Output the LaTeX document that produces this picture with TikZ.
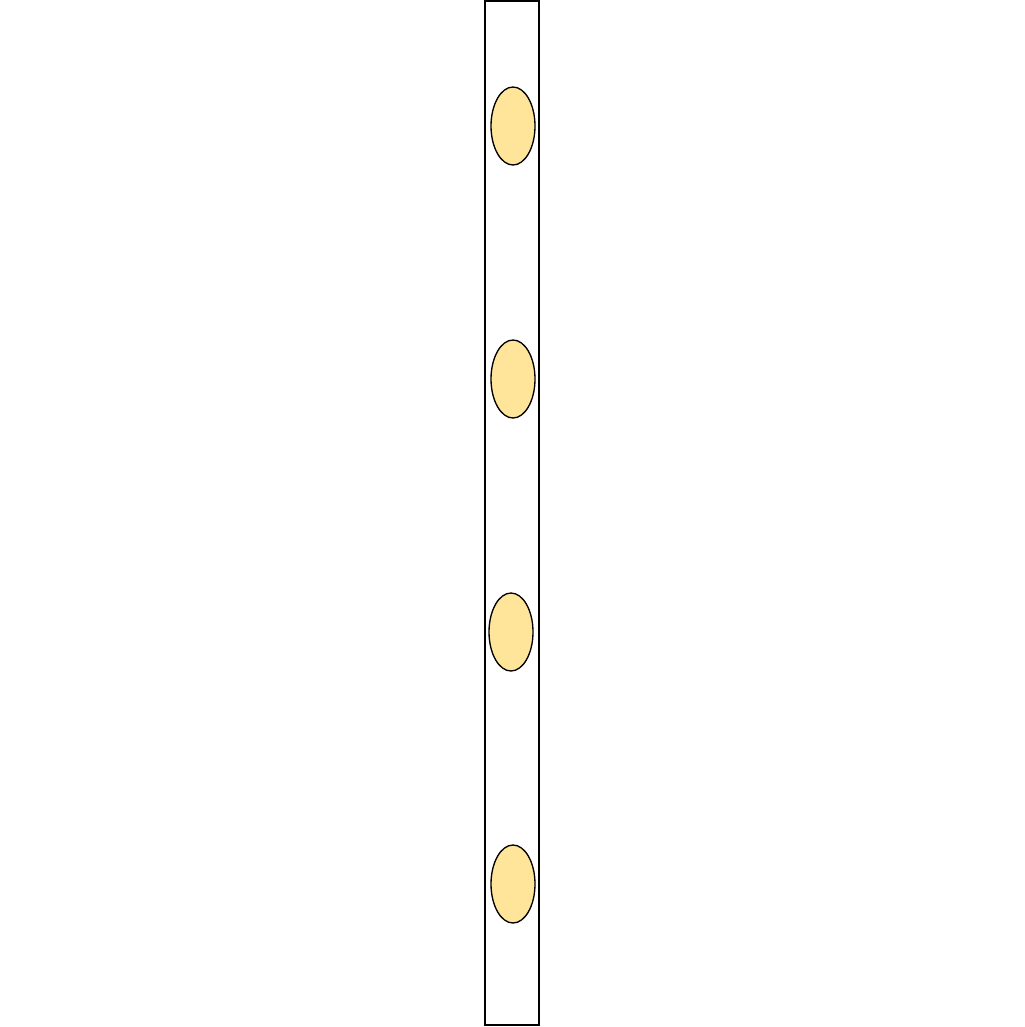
\documentclass[tikz,border=0pt]{standalone}
\usetikzlibrary{shapes.geometric}
\definecolor{lampfill}{HTML}{FFE599}

\begin{document}
\begin{tikzpicture}[x=0.3mm,y=-0.3mm,line width=0.4mm,
  lamp/.style={ellipse,draw,fill=lampfill,minimum width=13.2mm,minimum height=23.4mm,inner sep=0pt}]

\useasboundingbox (0,0) rectangle (1024,1027);

% Strip
\node[draw,fill=white,minimum width=16.2mm,minimum height=307.2mm,inner sep=0pt] (strip) at (512,513) {};

% ---- Lamps ----
\node[lamp] (lamp1) at (513,126) {};
\node[lamp] (lamp2) at (513,379) {};
\node[lamp] (lamp3) at (511,632) {};
\node[lamp] (lamp4) at (513,884) {};

\end{tikzpicture}
\end{document}
